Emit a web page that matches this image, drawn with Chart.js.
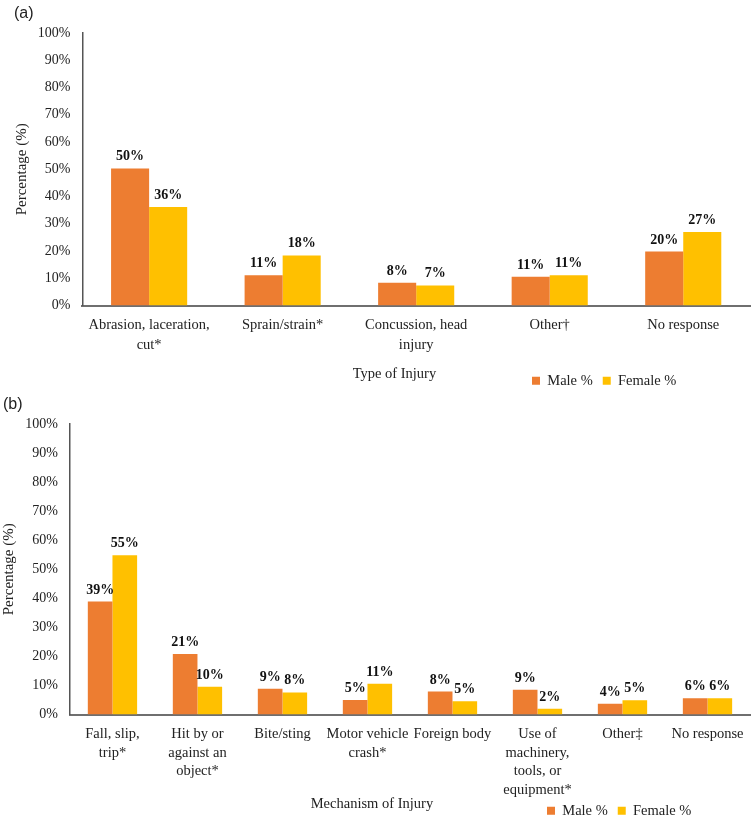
<!DOCTYPE html>
<html>
<head>
<meta charset="utf-8">
<script src="https://cdn.jsdelivr.net/npm/chart.js@4"></script>
<style>
  html, body { margin: 0; padding: 0; background: #fff; overflow: hidden; width: 755px; height: 819px; }
  .panel { position: absolute; left: 0; width: 755px; }
  #wrap-a { top: 0; }
  #wrap-b { top: 388px; }
</style>
</head>
<body>
<div class="panel" id="wrap-a"><canvas id="chart-a" width="755" height="418"></canvas></div>
<div class="panel" id="wrap-b"><canvas id="chart-b" width="755" height="460"></canvas></div>
<script>
// (a) type of injury
const typeLabels = [['Abrasion, laceration,', 'cut*'], 'Sprain/strain*', ['Concussion, head', 'injury'], 'Other\u2020', 'No response'];
const typeMale = [50.3, 11.1, 8.4, 10.6, 19.8];
const typeFemale = [36.2, 18.4, 7.4, 11.1, 27.0];

// (b) mechanism of injury
const mechLabels = [['Fall, slip,', 'trip*'], ['Hit by or', 'against an', 'object*'], 'Bite/sting', ['Motor vehicle', 'crash*'], 'Foreign body', ['Use of', 'machinery,', 'tools, or', 'equipment*'], 'Other\u2021', 'No response'];
const mechMale = [38.9, 20.8, 8.9, 5.0, 7.9, 8.5, 3.7, 5.6];
const mechFemale = [54.8, 9.6, 7.6, 10.6, 4.6, 2.0, 4.9, 5.6];

const yTicks = [0, 10, 20, 30, 40, 50, 60, 70, 80, 90, 100];

const MALE = '#ED7D31';
const FEMALE = '#FFC000';
const SERIF = "'Liberation Serif', 'Times New Roman', serif";

Chart.defaults.font.family = SERIF;
Chart.defaults.font.size = 14;
Chart.defaults.color = '#222';

// percent labels above every bar
const barLabels = {
  id: 'barLabels',
  afterDatasetsDraw(chart) {
    const ctx = chart.ctx;
    ctx.save();
    ctx.font = 'bold 14px ' + SERIF;
    ctx.fillStyle = '#111';
    ctx.textAlign = 'center';
    ctx.textBaseline = 'alphabetic';
    chart.data.datasets.forEach((ds, i) => {
      chart.getDatasetMeta(i).data.forEach((bar, j) => {
        ctx.fillText(Math.round(ds.data[j]) + '%', bar.x, bar.y - 8);
      });
    });
    ctx.restore();
  }
};

// move the legend next to the x axis title
const legendShift = {
  id: 'legendShift',
  afterLayout(chart, args, opts) {
    const lg = chart.legend;
    if (!lg) return;
    lg.left += opts.dx; lg.right += opts.dx;
    lg.top += opts.dy; lg.bottom += opts.dy;
  }
};

// x title sits a bit left of the plot centre, as in the original
const pad = n => '\u00a0'.repeat(n);

function makeChart(id, cfg) {
  return new Chart(document.getElementById(id), {
    type: 'bar',
    data: {
      labels: cfg.labels,
      datasets: [
        { label: 'Male %', data: cfg.male, backgroundColor: MALE, borderWidth: 0,
          categoryPercentage: cfg.catPct, barPercentage: 1 },
        { label: 'Female %', data: cfg.female, backgroundColor: FEMALE, borderWidth: 0,
          categoryPercentage: cfg.catPct, barPercentage: 1 }
      ]
    },
    plugins: [barLabels, legendShift],
    options: {
      responsive: false,
      animation: false,
      layout: { padding: { left: cfg.padLeft, right: 5, top: 0, bottom: 0 } },
      plugins: {
        title: {
          display: true, text: cfg.tag, align: 'start', color: '#222',
          font: { family: "'Liberation Sans', Arial, sans-serif", size: 16, weight: 'normal', lineHeight: 1.2 },
          padding: cfg.tagPad
        },
        legend: {
          position: 'bottom', align: 'start',
          labels: { boxWidth: 8, boxHeight: 8, padding: 10, color: '#222', font: { size: 14.5 } }
        },
        legendShift: cfg.legendShift,
        tooltip: { enabled: false }
      },
      scales: {
        x: {
          grid: { display: false, drawTicks: false },
          border: { display: true, color: '#6f6f6f', width: 2 },
          ticks: { autoSkip: false, maxRotation: 0, padding: 10, color: '#222',
                   font: { size: 14.5, lineHeight: cfg.tickLh } },
          title: { display: true, text: cfg.xTitle, color: '#222',
                   font: { size: 14.5, lineHeight: 1.35 }, padding: cfg.xTitlePad }
        },
        y: {
          min: 0, max: 100,
          afterBuildTicks: axis => { axis.ticks = yTicks.map(v => ({ value: v })); },
          grid: { display: false, drawTicks: false },
          border: { display: true, color: '#555', width: 1.5 },
          ticks: { padding: 12, color: '#222', callback: v => v + '%', font: { size: 14 } },
          title: { display: true, text: 'Percentage (%)', color: '#222',
                   font: { size: 15, lineHeight: 1.2 }, padding: cfg.yTitlePad }
        }
      }
    }
  });
}

makeChart('chart-a', {
  tag: '(a)', labels: typeLabels, male: typeMale, female: typeFemale,
  catPct: 0.57, padLeft: 14, tagPad: { top: 4.4, bottom: 9.4 },
  tickLh: 1.35, xTitle: 'Type of Injury' + pad(12), xTitlePad: { top: -0.8, bottom: 0 },
  yTitlePad: { top: -1, bottom: -5.3 },
  legendShift: { dx: 508, dy: -20 }
});

makeChart('chart-b', {
  tag: '(b)', labels: mechLabels, male: mechMale, female: mechFemale,
  catPct: 0.58, padLeft: 3, tagPad: { top: 7.4, bottom: 9.4 },
  tickLh: 1.3, xTitle: 'Mechanism of Injury' + pad(21), xTitlePad: { top: -16, bottom: 0 },
  yTitlePad: { top: -3, bottom: -4.7 },
  legendShift: { dx: 534, dy: -20 }
});
</script>
</body>
</html>
